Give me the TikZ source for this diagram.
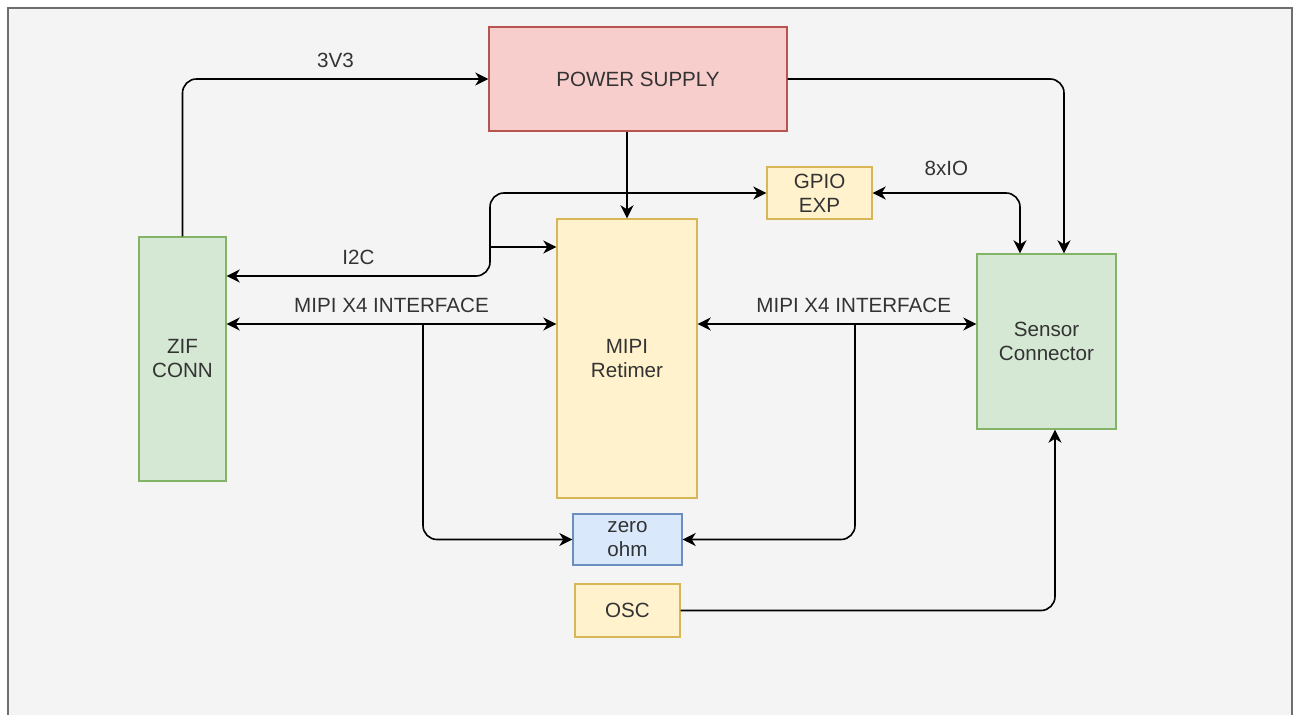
\documentclass[tikz,border=0pt]{standalone}
\usepackage{fontspec}
\setmainfont{Liberation Sans}
\usetikzlibrary{calc,arrows.meta}
\definecolor{bgcol}{HTML}{F4F4F4}
\definecolor{framecol}{HTML}{6E6E6E}
\definecolor{txtcol}{HTML}{333333}
\definecolor{redfill}{HTML}{F8CECC}
\definecolor{reddraw}{HTML}{B85450}
\definecolor{greenfill}{HTML}{D5E8D4}
\definecolor{greendraw}{HTML}{82B366}
\definecolor{yellowfill}{HTML}{FFF2CC}
\definecolor{yellowdraw}{HTML}{D6B656}
\definecolor{bluefill}{HTML}{DAE8FC}
\definecolor{bluedraw}{HTML}{6C8EBF}
\tikzset{
  block/.style={rectangle, line width=0.7pt, text=txtcol, align=center,
    inner sep=0pt, font=\fontsize{10.3}{12}\selectfont},
  redblock/.style={block, fill=redfill, draw=reddraw},
  greenblock/.style={block, fill=greenfill, draw=greendraw},
  yellowblock/.style={block, fill=yellowfill, draw=yellowdraw},
  blueblock/.style={block, fill=bluefill, draw=bluedraw},
  wire/.style={line width=0.8pt, rounded corners=7pt,
    >={Stealth[length=6.5pt,width=6.5pt,inset=2pt]}},
  lbl/.style={text=txtcol, font=\fontsize{10.3}{12}\selectfont, inner sep=2pt},
}
\begin{document}
\begin{tikzpicture}[x=0.5pt, y=-0.5pt]
    % background and frame
    \useasboundingbox (0,0) rectangle (1299,715);
    \fill [white] (0,0) rectangle (1299,715);
    \fill [bgcol] (8,8) rectangle (1292,715);
    \draw [framecol, line width=1pt] (8,715) -- (8,8) -- (1292,8) -- (1292,715);
    % set coordinates
    \coordinate (i2cbend) at (490,276);
    \coordinate (i2cmid) at (490,247);
    \coordinate (mipiL) at (423,324);
    \coordinate (mipiR) at (855,324);
    % draw blocks
    \node [redblock, minimum width=149pt, minimum height=52pt] (power) at (638,79) {POWER SUPPLY};
    \node [greenblock, minimum width=43.5pt, minimum height=122pt] (zif) at (182.5,359) {ZIF\\CONN};
    \node [yellowblock, minimum width=70pt, minimum height=139.5pt] (retimer) at (627,358.5) {MIPI\\Retimer};
    \node [yellowblock, minimum width=52.5pt, minimum height=26pt] (gpio) at (819.5,193) {GPIO\\EXP};
    \node [greenblock, minimum width=69.5pt, minimum height=87.5pt] (sensor) at (1046.5,341.5) {Sensor\\Connector};
    \node [blueblock, minimum width=54.5pt, minimum height=25.5pt] (zero) at (627.5,539.5) {zero\\ohm};
    \node [yellowblock, minimum width=52.5pt, minimum height=26.5pt] (osc) at (627.5,610.5) {OSC};
    % draw connectors
    \draw [wire,->] (zif.north) |- node [lbl, pos=0.75, above=3pt] {3V3} (power.west);
    \draw [wire,->] (power.east) -| ($(sensor.north)+(17.5,0)$);
    \draw [wire,->] (retimer.north |- power.south) -- (retimer.north);
    \draw [wire,<->] (gpio.west) -| (i2cbend) -- node [lbl, above=3pt] {I2C} (zif.east |- i2cbend);
    \draw [wire,->] (i2cmid) -- (retimer.west |- i2cmid);
    \draw [wire,<->] (zif.east |- mipiL) -- node [lbl, above=3pt] {MIPI X4 INTERFACE} (retimer.west |- mipiL);
    \draw [wire,->] (mipiL) |- (zero.west);
    \draw [wire,<->] (retimer.east |- mipiR) -- node [lbl, pos=0.56, above=3pt] {MIPI X4 INTERFACE} (sensor.west |- mipiR);
    \draw [wire,->] (mipiR) |- (zero.east);
    \draw [wire,<->] (gpio.east) -| node [lbl, pos=0.25, above=6pt] {8xIO} ($(sensor.north)+(-26.5,0)$);
    \draw [wire,->] (osc.east) -| ($(sensor.south)+(8.5,0)$);
\end{tikzpicture}
\end{document}
